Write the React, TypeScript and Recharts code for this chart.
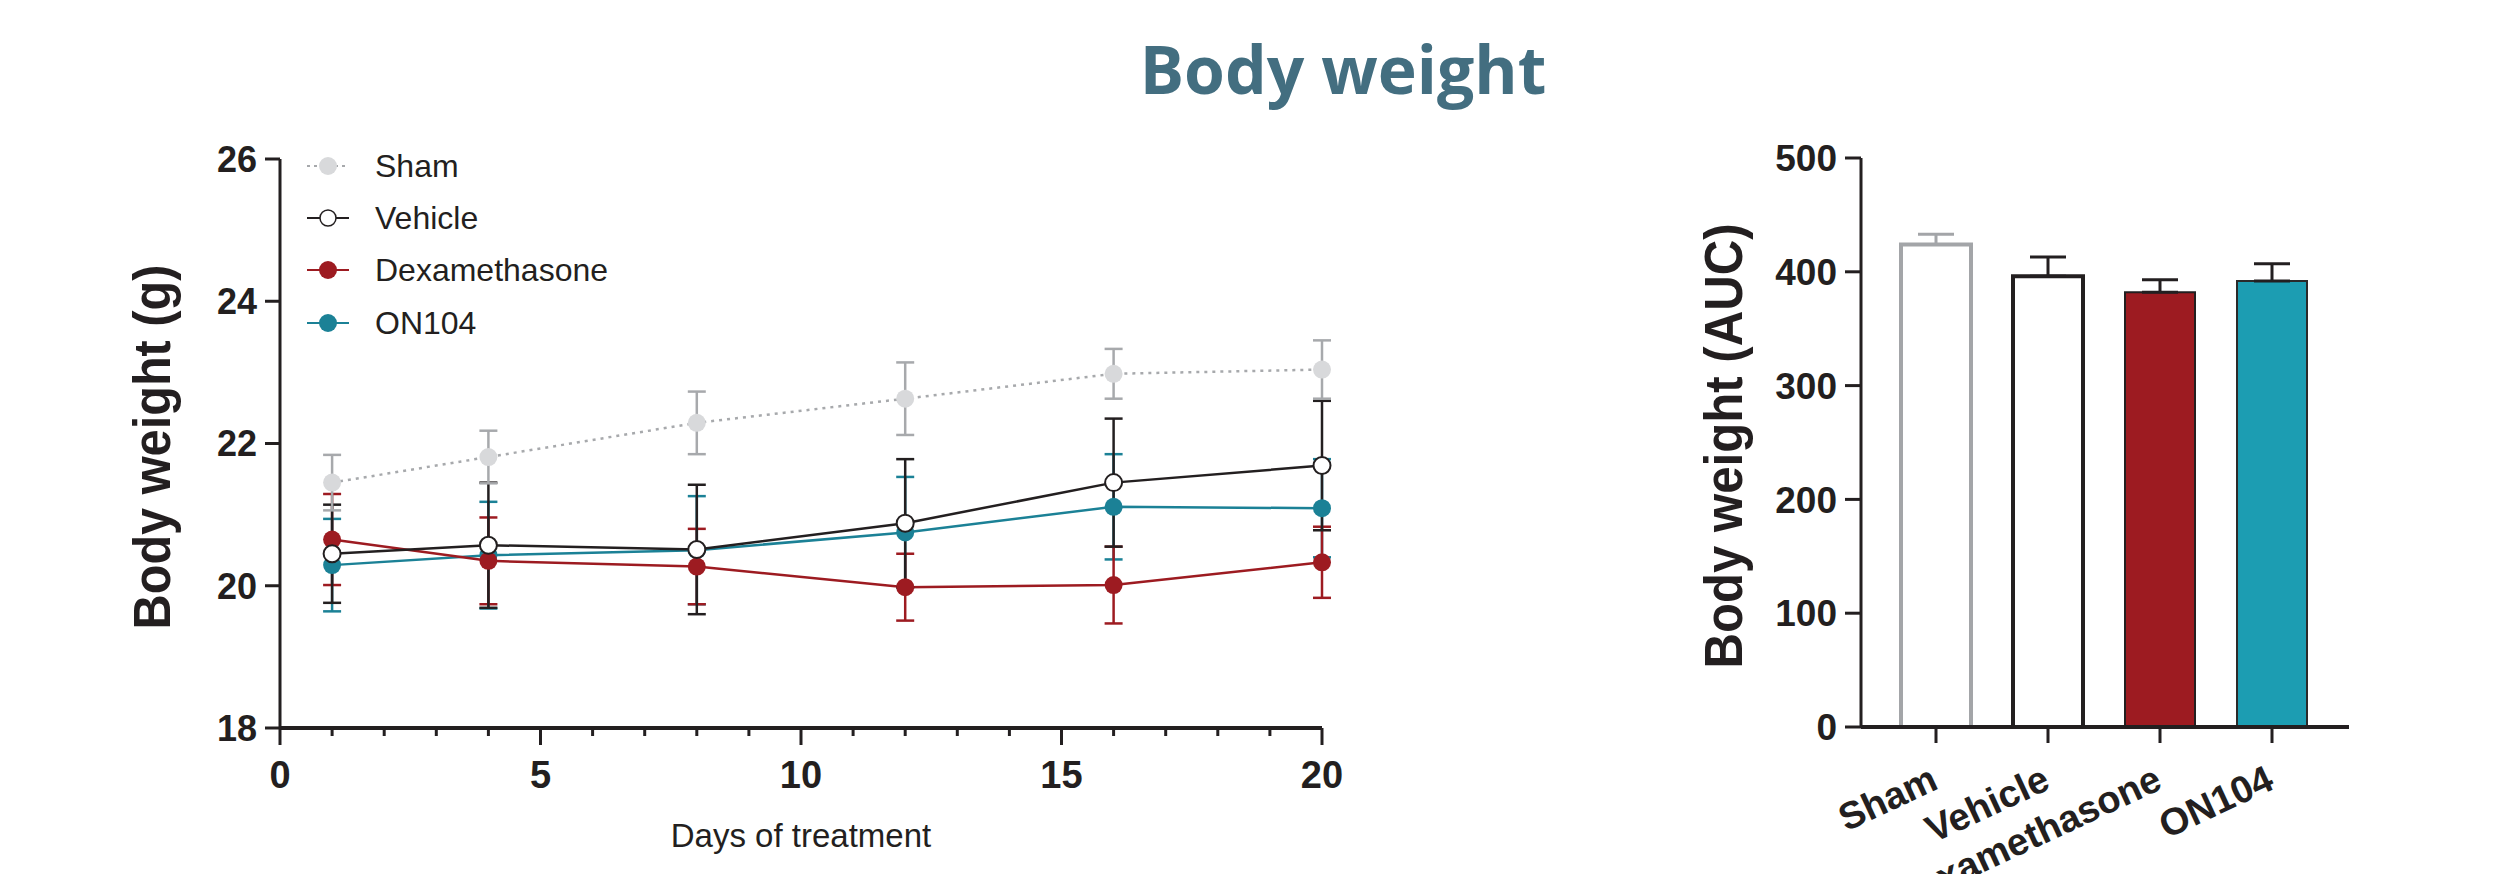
import React from 'react';
import { LineChart, Line, XAxis, YAxis, ErrorBar, Legend, BarChart, Bar } from 'recharts';

// ---------- data ----------
const days = [1, 4, 8, 12, 16, 20];
const shamMean = [21.45, 21.81, 22.29, 22.63, 22.98, 23.04];
const shamSem = [0.39, 0.37, 0.44, 0.51, 0.35, 0.41];
const vehicleMean = [20.45, 20.57, 20.51, 20.88, 21.45, 21.69];
const vehicleSem = [0.69, 0.88, 0.91, 0.9, 0.9, 0.91];
const dexaMean = [20.65, 20.35, 20.27, 19.98, 20.01, 20.33];
const dexaSem = [0.64, 0.61, 0.53, 0.47, 0.54, 0.5];
const on104Mean = [20.29, 20.43, 20.5, 20.75, 21.11, 21.09];
const on104Sem = [0.65, 0.75, 0.76, 0.78, 0.74, 0.69];

const dayTicks = [0, 1, 2, 3, 4, 5, 6, 7, 8, 9, 10, 11, 12, 13, 14, 15, 16, 17, 18, 19, 20];
const weightTicks = [18, 20, 22, 24, 26];

const groups = ['Sham', 'Vehicle', 'Dexamethasone', 'ON104'];
const aucMean = [424, 396, 382, 392];
const aucSem = [9, 17, 11, 15];
const aucTicks = [0, 100, 200, 300, 400, 500];
const barKeys = ['sham', 'vehicle', 'dexa', 'on104'];

// ---------- styles ----------
const INK = '#231f20';
const FONT = '"Liberation Sans", Arial, sans-serif';
const SHAM_LINE = '#a7a9ac';
const SHAM_DOT = '#d8d9db';
const RED = '#9d1b21';
const TEAL_LINE = '#1b8196';
const TEAL_BAR = '#1c9db2';

const lineData = days.map((d, i) => ({
  day: d,
  sham: shamMean[i],
  shamErr: shamSem[i],
  vehicle: vehicleMean[i],
  vehicleErr: vehicleSem[i],
  dexa: dexaMean[i],
  dexaErr: dexaSem[i],
  on104: on104Mean[i],
  on104Err: on104Sem[i],
}));

const barData = groups.map((g, i) => {
  const row: any = { group: g };
  row[barKeys[i]] = aucMean[i];
  row[barKeys[i] + 'Err'] = [0, aucSem[i]];
  return row;
});

const barStyles = [
  { fill: '#ffffff', stroke: '#a3a5a8', strokeWidth: 4, err: '#a3a5a8' },
  { fill: '#ffffff', stroke: INK, strokeWidth: 4, err: INK },
  { fill: RED, stroke: INK, strokeWidth: 2, err: INK },
  { fill: TEAL_BAR, stroke: '#2a2a2a', strokeWidth: 2, err: INK },
];

const legendItems = [
  { name: 'Sham', line: SHAM_LINE, dash: '3 4', fill: SHAM_DOT, stroke: 'none', r: 9 },
  { name: 'Vehicle', line: INK, dash: undefined, fill: '#ffffff', stroke: INK, r: 8 },
  { name: 'Dexamethasone', line: RED, dash: undefined, fill: RED, stroke: 'none', r: 9 },
  { name: 'ON104', line: TEAL_LINE, dash: undefined, fill: TEAL_LINE, stroke: 'none', r: 9 },
];

const LegendBox = () => (
  <div style={{ fontFamily: FONT, fontSize: 32, color: INK }}>
    {legendItems.map((it) => (
      <div key={it.name} style={{ display: 'flex', alignItems: 'center', height: 52.2 }}>
        <svg width={42} height={24} style={{ display: 'block' }}>
          <line x1={0} x2={42} y1={12} y2={12} stroke={it.line} strokeWidth={2.2} strokeDasharray={it.dash} />
          <circle cx={21} cy={12} r={it.r} fill={it.fill} stroke={it.stroke} strokeWidth={1.5} />
        </svg>
        <span style={{ marginLeft: 26, lineHeight: 1, whiteSpace: 'nowrap' }}>{it.name}</span>
      </div>
    ))}
  </div>
);

const DayTick = (props: any) => {
  const { x, y, payload } = props;
  const major = payload.value % 5 === 0;
  return (
    <g>
      <line x1={x} x2={x} y1={y} y2={y + (major ? 17 : 8)} stroke={INK} strokeWidth={3} />
      {major && (
        <text x={x} y={y + 60} textAnchor="middle" fontFamily={FONT} fontWeight="bold" fontSize={38} fill={INK}>
          {payload.value}
        </text>
      )}
    </g>
  );
};

const GroupTick = (props: any) => {
  const { x, y, payload } = props;
  const ax = x + 4;
  const ay = y + 61;
  return (
    <g>
      <line x1={x} x2={x} y1={y} y2={y + 16} stroke={INK} strokeWidth={3} />
      <text
        x={ax}
        y={ay}
        transform={`rotate(-25 ${ax} ${ay})`}
        textAnchor="end"
        fontFamily={FONT}
        fontWeight="bold"
        fontSize={38}
        fill={INK}
      >
        {payload.value}
      </text>
    </g>
  );
};

const tickStyle = { fontFamily: FONT, fontWeight: 'bold', fontSize: 36, fill: INK };

export default function App() {
  return (
    <div style={{ position: 'absolute', left: 0, top: 0, width: 2507, height: 874, background: '#ffffff', overflow: 'hidden' }}>
      <div style={{ position: 'absolute', left: 0, top: 0 }}>
        <LineChart width={1400} height={874} data={lineData} margin={{ top: 159, right: 78, bottom: 0, left: 0 }}>
          <XAxis
            dataKey="day"
            type="number"
            domain={[0, 20]}
            ticks={dayTicks}
            interval={0}
            height={146}
            tickSize={0}
            tickMargin={0}
            tickLine={false}
            axisLine={{ stroke: INK, strokeWidth: 4 }}
            tick={DayTick}
            label={() => (
              <text x={801} y={847} textAnchor="middle" fontFamily={FONT} fontSize={33} fill={INK}>
                Days of treatment
              </text>
            )}
          />
          <YAxis
            type="number"
            domain={[18, 26]}
            ticks={weightTicks}
            interval={0}
            width={280}
            tickSize={15}
            tickMargin={8}
            tick={tickStyle}
            tickLine={{ stroke: INK, strokeWidth: 3 }}
            axisLine={{ stroke: INK, strokeWidth: 3 }}
            label={() => (
              <text
                x={170}
                y={447}
                transform="rotate(-90 170 447)"
                textAnchor="middle"
                fontFamily={FONT}
                fontWeight="bold"
                fontSize={51}
                textLength={365}
                lengthAdjust="spacingAndGlyphs"
                fill={INK}
              >
                Body weight (g)
              </text>
            )}
          />
          <Legend
            layout="vertical"
            verticalAlign="middle"
            align="center"
            wrapperStyle={{ left: 307, top: 140, width: 'auto', height: 'auto' }}
            content={() => <LegendBox />}
          />
          <Line
            dataKey="on104"
            stroke={TEAL_LINE}
            strokeWidth={2.5}
            dot={{ r: 9, fill: TEAL_LINE, stroke: 'none' }}
            isAnimationActive={false}
          >
            <ErrorBar dataKey="on104Err" width={9} stroke={TEAL_LINE} strokeWidth={2.5} direction="y" />
          </Line>
          <Line
            dataKey="dexa"
            stroke={RED}
            strokeWidth={2.5}
            dot={{ r: 9, fill: RED, stroke: 'none' }}
            isAnimationActive={false}
          >
            <ErrorBar dataKey="dexaErr" width={9} stroke={RED} strokeWidth={2.5} direction="y" />
          </Line>
          <Line
            dataKey="vehicle"
            stroke={INK}
            strokeWidth={2.5}
            dot={{ r: 8.5, fill: '#ffffff', stroke: INK, strokeWidth: 2 }}
            isAnimationActive={false}
          >
            <ErrorBar dataKey="vehicleErr" width={9} stroke={INK} strokeWidth={2.5} direction="y" />
          </Line>
          <Line
            dataKey="sham"
            stroke={SHAM_LINE}
            strokeWidth={2.5}
            strokeDasharray="3 5"
            dot={{ r: 9, fill: SHAM_DOT, stroke: 'none' }}
            isAnimationActive={false}
          >
            <ErrorBar dataKey="shamErr" width={9} stroke={SHAM_LINE} strokeWidth={2.5} direction="y" />
          </Line>
        </LineChart>
      </div>

      <div style={{ position: 'absolute', left: 1600, top: 0 }}>
        <BarChart width={907} height={874} data={barData} margin={{ top: 158, right: 158, bottom: 0, left: 0 }} barSize={70}>
          <XAxis
            dataKey="group"
            type="category"
            height={147}
            padding={{ left: 19, right: 21 }}
            interval={0}
            tickSize={0}
            tickMargin={0}
            tickLine={false}
            axisLine={{ stroke: INK, strokeWidth: 4 }}
            tick={GroupTick}
          />
          <YAxis
            type="number"
            domain={[0, 500]}
            ticks={aucTicks}
            interval={0}
            width={261}
            tickSize={16}
            tickMargin={8}
            tick={{ ...tickStyle, fontSize: 37 }}
            tickLine={{ stroke: INK, strokeWidth: 3 }}
            axisLine={{ stroke: INK, strokeWidth: 3 }}
            label={() => (
              <text
                x={1742 - 1600}
                y={446}
                transform={`rotate(-90 ${1742 - 1600} 446)`}
                textAnchor="middle"
                fontFamily={FONT}
                fontWeight="bold"
                fontSize={53}
                textLength={445}
                lengthAdjust="spacingAndGlyphs"
                fill={INK}
              >
                Body weight (AUC)
              </text>
            )}
          />
          {barKeys.map((k, i) => (
            <Bar
              key={k}
              dataKey={k}
              stackId="auc"
              fill={barStyles[i].fill}
              stroke={barStyles[i].stroke}
              strokeWidth={barStyles[i].strokeWidth}
              isAnimationActive={false}
            >
              <ErrorBar dataKey={k + 'Err'} width={18} stroke={barStyles[i].err} strokeWidth={3} direction="y" />
            </Bar>
          ))}
        </BarChart>
      </div>

      <svg width={2507} height={874} style={{ position: 'absolute', left: 0, top: 0, pointerEvents: 'none' }}>
        <text x={1343} y={94} textAnchor="middle" fontFamily='"Open Sans", sans-serif' fontWeight="bold" fontSize={66} fill="#436e80">
          Body weight
        </text>
      </svg>
    </div>
  );
}
